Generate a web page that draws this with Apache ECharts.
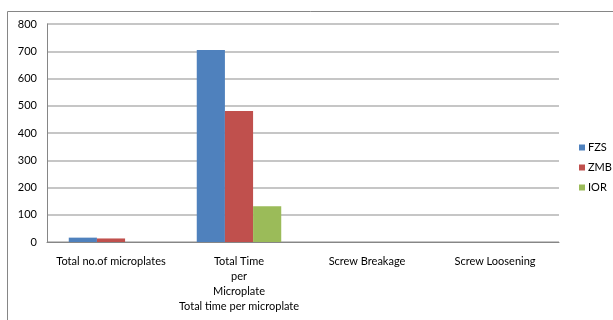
<!DOCTYPE html>
<html>
<head>
<meta charset="utf-8">
<script src="https://cdn.jsdelivr.net/npm/echarts@6/dist/echarts.min.js"></script>
</head>
<body style="margin:0">
<div id="main" style="width:613px;height:320px"></div>
<script>
var categories = ['Total no.of microplates', 'Total Time\nper\nMicroplate\nTotal time per microplate', 'Screw Breakage', 'Screw Loosening'];
var fzs = [16, 705, 0, 0];
var zmb = [13, 481, 0, 0];
var ior = [0, 131, 0, 0];
var yTicks = [0, 100, 200, 300, 400, 500, 600, 700, 800];

var font = 'Lato';
var chart = echarts.init(document.getElementById('main'));
var option = {
    backgroundColor: '#fff',
    animation: false,
    textStyle: { fontFamily: font },
    graphic: [{
        type: 'rect',
        shape: { x: 7.5, y: 11.5, width: 640, height: 340 },
        style: { fill: 'none', stroke: '#868686', lineWidth: 1 }
    }],
    grid: { left: 47, right: 54, top: 24, bottom: 78, containLabel: false },
    legend: {
        orient: 'vertical',
        left: 574,
        top: 137,
        itemWidth: 6,
        itemHeight: 6,
        itemGap: 9,
        icon: 'rect',
        textStyle: { fontSize: 11, color: '#000', fontFamily: font, padding: [0, 0, 0, -2] },
        data: ['FZS', 'ZMB', 'IOR']
    },
    xAxis: {
        type: 'category',
        data: categories,
        axisLine: { lineStyle: { color: '#868686' } },
        axisTick: { show: false },
        axisLabel: { color: '#000', fontSize: 11, margin: 12, lineHeight: 15, interval: 0, fontFamily: font }
    },
    yAxis: {
        type: 'value',
        min: yTicks[0],
        max: yTicks[yTicks.length - 1],
        interval: 100,
        axisLine: { show: true, lineStyle: { color: '#868686' } },
        axisTick: { show: false },
        axisLabel: { color: '#000', fontSize: 11, margin: 10, fontFamily: font },
        splitLine: { lineStyle: { color: '#b3b3b3', width: 1.5 } }
    },
    series: [
        { name: 'FZS', type: 'bar', data: fzs, itemStyle: { color: '#4F81BD' }, barGap: '0%', barCategoryGap: '34%' },
        { name: 'ZMB', type: 'bar', data: zmb, itemStyle: { color: '#C0504D' } },
        { name: 'IOR', type: 'bar', data: ior, itemStyle: { color: '#9BBB59' } }
    ]
};
chart.setOption(option);
</script>
</body>
</html>
